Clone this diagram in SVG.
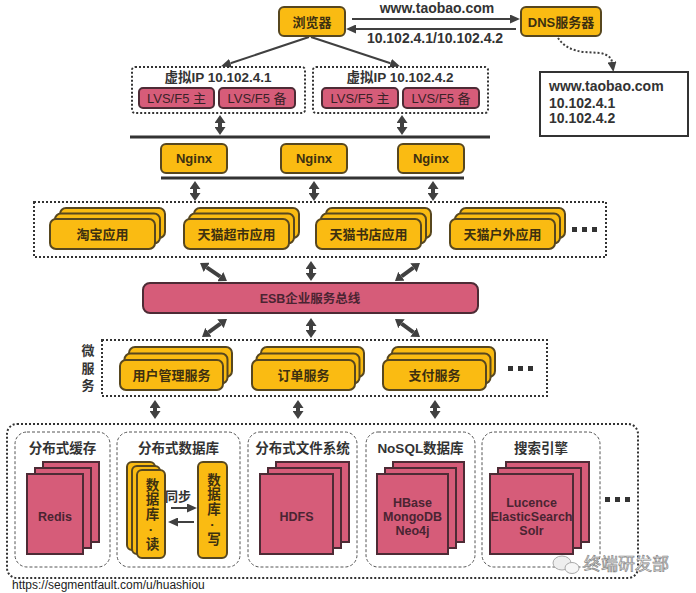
<svg xmlns="http://www.w3.org/2000/svg" width="696" height="593" viewBox="0 0 696 593">
<defs>
<style>
text{font-family:"Liberation Sans","Noto Sans CJK SC",sans-serif;}
.b{font-weight:bold;}
.c{text-anchor:middle;}
.gold{fill:#FABB12;stroke:#57471f;stroke-width:2;}
.pink{fill:#D65C79;stroke:#4d2b35;stroke-width:2;}
.gt{font-size:13px;font-weight:bold;fill:#3d3010;text-anchor:middle;}
.pt{font-size:12.5px;font-weight:bold;fill:#4a2432;text-anchor:middle;}
.vt{writing-mode:vertical-rl;text-orientation:upright;font-size:13.5px;font-weight:bold;fill:#3d3010;text-anchor:middle;letter-spacing:1px;}
.dk{fill:#333;}
.dot{fill:none;stroke:#333;stroke-width:2;stroke-dasharray:2 2;}
.dash{fill:none;stroke:#555;stroke-width:1;stroke-dasharray:3 2;}
.big{stroke:#404040;stroke-width:4;fill:none;marker-start:url(#hb);marker-end:url(#hb);}
.thin{stroke:#404040;stroke-width:2;fill:none;marker-end:url(#ht);}
.bar{stroke:#333;stroke-width:3;}
</style>
<marker id="hb" markerUnits="userSpaceOnUse" markerWidth="8" markerHeight="11" viewBox="0 0 8 11" refX="0" refY="5.5" orient="auto-start-reverse"><path d="M0,0 L8,5.5 L0,11 z" fill="#404040"/></marker>
<marker id="ht" markerUnits="userSpaceOnUse" markerWidth="10" markerHeight="9" viewBox="0 0 10 9" refX="0" refY="4.5" orient="auto"><path d="M0,0 L10,4.5 L0,9 z" fill="#404040"/></marker>
</defs>
<rect width="696" height="593" fill="#fff"/>

<g id="connectors">
<line class="thin" x1="352" y1="19" x2="510" y2="19"/>
<line class="thin" x1="516" y1="29" x2="356" y2="29"/>
<line class="thin" x1="309" y1="37" x2="230.5" y2="63.2"/>
<line class="thin" x1="311" y1="37" x2="390.5" y2="63.2"/>
<path d="M558,38 Q566,50 584,52 L600,53 Q611,55 612,62" fill="none" stroke="#404040" stroke-width="2" stroke-dasharray="2 2" marker-end="url(#ht)"/>
<line class="big" x1="220" y1="123" x2="220" y2="127"/>
<line class="big" x1="402" y1="123" x2="402" y2="127"/>
<line class="bar" x1="130" y1="137" x2="490" y2="137"/>
<line class="bar" x1="161" y1="178" x2="464" y2="178"/>
<line class="big" x1="195" y1="189" x2="195" y2="193"/>
<line class="big" x1="314" y1="189" x2="314" y2="193"/>
<line class="big" x1="433" y1="189" x2="433" y2="193"/>
<line class="big" x1="206.7" y1="267.4" x2="220.3" y2="276.6"/>
<line class="big" x1="311" y1="269" x2="311" y2="273"/>
<line class="big" x1="413.5" y1="267.7" x2="401.5" y2="276.3"/>
<line class="big" x1="220.5" y1="323.7" x2="208.5" y2="332.3"/>
<line class="big" x1="311" y1="326" x2="311" y2="330"/>
<line class="big" x1="401.5" y1="323.7" x2="413.5" y2="332.3"/>
<line class="big" x1="155" y1="408" x2="155" y2="411"/>
<line class="big" x1="298" y1="408" x2="298" y2="411"/>
<line class="big" x1="435" y1="408" x2="435" y2="411"/>
<line class="thin" x1="171" y1="508" x2="187" y2="508"/>
<line class="thin" x1="194" y1="522" x2="178" y2="522"/>
</g>

<text class="b c dk" x="437" y="13" font-size="14">www.taobao.com</text>
<text class="b c dk" x="435" y="43" font-size="14">10.102.4.1/10.102.4.2</text>

<g id="browser">
<rect class="gold" x="279" y="7" width="66" height="29" rx="5"/>
<text class="gt" x="312" y="27" font-size="14">浏览器</text>
</g>
<g id="dns">
<rect class="gold" x="521" y="7" width="80" height="29" rx="5"/>
<text class="gt" x="561" y="27" font-size="14">DNS服务器</text>
</g>
<g id="dns-record">
<rect x="540" y="72" width="148" height="64" fill="#fff" stroke="#333" stroke-width="2"/>
<text class="b dk" x="549" y="91" font-size="14">www.taobao.com</text>
<text class="b dk" x="549" y="108" font-size="14">10.102.4.1</text>
<text class="b dk" x="549" y="123" font-size="14">10.102.4.2</text>
</g>

<g id="vip1">
<rect class="dot" x="132" y="67" width="173" height="46" rx="3"/>
<text class="b c dk" x="218" y="82" font-size="13.5">虚拟IP 10.102.4.1</text>
<rect class="pink" x="139" y="88" width="75" height="20" rx="4"/>
<text class="c" x="176.5" y="103" font-size="13" fill="#3a2228">LVS/F5 主</text>
<rect class="pink" x="219" y="88" width="76" height="20" rx="4"/>
<text class="c" x="257" y="103" font-size="13" fill="#3a2228">LVS/F5 备</text>
</g>
<g id="vip2">
<rect class="dot" x="313" y="67" width="175" height="46" rx="3"/>
<text class="b c dk" x="400" y="82" font-size="13.5">虚拟IP 10.102.4.2</text>
<rect class="pink" x="322" y="88" width="76" height="20" rx="4"/>
<text class="c" x="360" y="103" font-size="13" fill="#3a2228">LVS/F5 主</text>
<rect class="pink" x="403" y="88" width="76" height="20" rx="4"/>
<text class="c" x="441" y="103" font-size="13" fill="#3a2228">LVS/F5 备</text>
</g>

<g id="nginx1"><rect class="gold" x="161" y="144" width="66" height="29" rx="5"/><text class="gt" x="194" y="163">Nginx</text></g>
<g id="nginx2"><rect class="gold" x="281" y="144" width="66" height="29" rx="5"/><text class="gt" x="314" y="163">Nginx</text></g>
<g id="nginx3"><rect class="gold" x="398" y="144" width="66" height="29" rx="5"/><text class="gt" x="431" y="163">Nginx</text></g>

<g id="apps">
<rect class="dot" x="34" y="202" width="572" height="55"/>
<rect x="572" y="227" width="5" height="5" fill="#333"/><rect x="582" y="227" width="5" height="5" fill="#333"/><rect x="592" y="227" width="5" height="5" fill="#333"/>
</g>
<g id="app-taobao">
<rect class="gold" x="60" y="208" width="105" height="30" rx="6"/>
<rect class="gold" x="55" y="213.5" width="105" height="30" rx="6"/>
<rect class="gold" x="50" y="219" width="105" height="30" rx="6"/>
<text class="gt" x="102.5" y="239">淘宝应用</text>
</g>
<g id="app-chaoshi">
<rect class="gold" x="194" y="208" width="105" height="30" rx="6"/>
<rect class="gold" x="189" y="213.5" width="105" height="30" rx="6"/>
<rect class="gold" x="184" y="219" width="105" height="30" rx="6"/>
<text class="gt" x="236.5" y="239">天猫超市应用</text>
</g>
<g id="app-shudian">
<rect class="gold" x="326" y="208" width="105" height="30" rx="6"/>
<rect class="gold" x="321" y="213.5" width="105" height="30" rx="6"/>
<rect class="gold" x="316" y="219" width="105" height="30" rx="6"/>
<text class="gt" x="368.5" y="239">天猫书店应用</text>
</g>
<g id="app-huwai">
<rect class="gold" x="460" y="208" width="105" height="30" rx="6"/>
<rect class="gold" x="455" y="213.5" width="105" height="30" rx="6"/>
<rect class="gold" x="450" y="219" width="105" height="30" rx="6"/>
<text class="gt" x="502.5" y="239">天猫户外应用</text>
</g>

<g id="esb">
<rect class="pink" x="143" y="283" width="335" height="30" rx="7"/>
<text class="pt" x="310" y="303" font-size="13">ESB企业服务总线</text>
</g>

<g id="microservices">
<rect class="dot" x="102" y="340" width="445" height="56"/>
<text class="b c dk" x="88" y="355" font-size="13">微</text>
<text class="b c dk" x="88" y="373" font-size="13">服</text>
<text class="b c dk" x="88" y="390" font-size="13">务</text>
<rect x="508" y="366" width="5" height="5" fill="#333"/><rect x="518" y="366" width="5" height="5" fill="#333"/><rect x="528" y="366" width="5" height="5" fill="#333"/>
</g>
<g id="svc-user">
<rect class="gold" x="129" y="347" width="103" height="30" rx="6"/>
<rect class="gold" x="124.5" y="353.5" width="103" height="30" rx="6"/>
<rect class="gold" x="120" y="360" width="103" height="30" rx="6"/>
<text class="gt" x="171.5" y="380">用户管理服务</text>
</g>
<g id="svc-order">
<rect class="gold" x="261" y="347" width="103" height="30" rx="6"/>
<rect class="gold" x="256.5" y="353.5" width="103" height="30" rx="6"/>
<rect class="gold" x="252" y="360" width="103" height="30" rx="6"/>
<text class="gt" x="303.5" y="380">订单服务</text>
</g>
<g id="svc-pay">
<rect class="gold" x="392" y="347" width="103" height="30" rx="6"/>
<rect class="gold" x="387.5" y="353.5" width="103" height="30" rx="6"/>
<rect class="gold" x="383" y="360" width="103" height="30" rx="6"/>
<text class="gt" x="434.5" y="380">支付服务</text>
</g>

<g id="storage">
<rect class="dot" x="7" y="424" width="631" height="154" rx="10"/>
<rect x="605" y="497" width="5" height="5" fill="#333"/><rect x="615" y="497" width="5" height="5" fill="#333"/><rect x="625" y="497" width="5" height="5" fill="#333"/>
</g>
<g id="cache">
<rect class="dash" x="15" y="432" width="95" height="135" rx="12"/>
<text class="b c dk" x="62.5" y="453" font-size="13.5">分布式缓存</text>
<rect class="pink" x="43" y="462" width="56" height="80"/>
<rect class="pink" x="35" y="468" width="56" height="80"/>
<rect class="pink" x="27" y="474" width="56" height="80"/>
<text class="pt" x="55" y="521" font-size="13">Redis</text>
</g>
<g id="db">
<rect class="dash" x="117" y="432" width="123" height="135" rx="12"/>
<text class="b c dk" x="178.5" y="453" font-size="13.5">分布式数据库</text>
<rect class="gold" x="127" y="462" width="28" height="88" rx="5"/>
<rect class="gold" x="132" y="466" width="28" height="88" rx="5"/>
<rect class="gold" x="137" y="470" width="28" height="88" rx="5"/>
<text class="vt" x="151" y="515">数据库·读</text>
<rect class="gold" x="198" y="462" width="29" height="96" rx="5"/>
<text class="vt" x="212.5" y="510">数据库·写</text>
<text class="b c dk" x="178" y="501" font-size="13">同步</text>
</g>
<g id="dfs">
<rect class="dash" x="248" y="432" width="109" height="135" rx="12"/>
<text class="b c dk" x="302.5" y="453" font-size="13.5">分布式文件系统</text>
<rect class="pink" x="276" y="462" width="73" height="80"/>
<rect class="pink" x="268" y="468" width="73" height="80"/>
<rect class="pink" x="260" y="474" width="73" height="80"/>
<text class="pt" x="296.5" y="521" font-size="13">HDFS</text>
</g>
<g id="nosql">
<rect class="dash" x="366" y="432" width="109" height="135" rx="12"/>
<text class="b c dk" x="420.5" y="453" font-size="13.5">NoSQL数据库</text>
<rect class="pink" x="393" y="462" width="71" height="80"/>
<rect class="pink" x="385" y="468" width="71" height="80"/>
<rect class="pink" x="377" y="474" width="71" height="80"/>
<text class="pt" x="412.5" y="507">HBase</text>
<text class="pt" x="412.5" y="521">MongoDB</text>
<text class="pt" x="412.5" y="535">Neo4j</text>
</g>
<g id="search">
<rect class="dash" x="482" y="432" width="118" height="135" rx="12"/>
<text class="b c dk" x="541" y="453" font-size="13.5">搜索引擎</text>
<rect class="pink" x="506" y="462" width="83" height="80"/>
<rect class="pink" x="498" y="468" width="83" height="80"/>
<rect class="pink" x="490" y="474" width="83" height="80"/>
<text class="pt" x="531.5" y="507" font-size="12">Lucence</text>
<text class="pt" x="531.5" y="521" font-size="12">ElasticSearch</text>
<text class="pt" x="531.5" y="535" font-size="12">Solr</text>
</g>

<text x="12" y="589" font-size="12" fill="#222">https://segmentfault.com/u/huashiou</text>
<g id="watermark">
<ellipse cx="562" cy="563" rx="9" ry="7" fill="#eee" stroke="#aaa" stroke-width="1"/>
<ellipse cx="572" cy="568" rx="7" ry="5.5" fill="#f6f6f6" stroke="#aaa" stroke-width="1"/>
<text x="584" y="570" font-size="17" fill="#f4f4f4" stroke="#888" stroke-width="0.7">终端研发部</text>
</g>
</svg>
